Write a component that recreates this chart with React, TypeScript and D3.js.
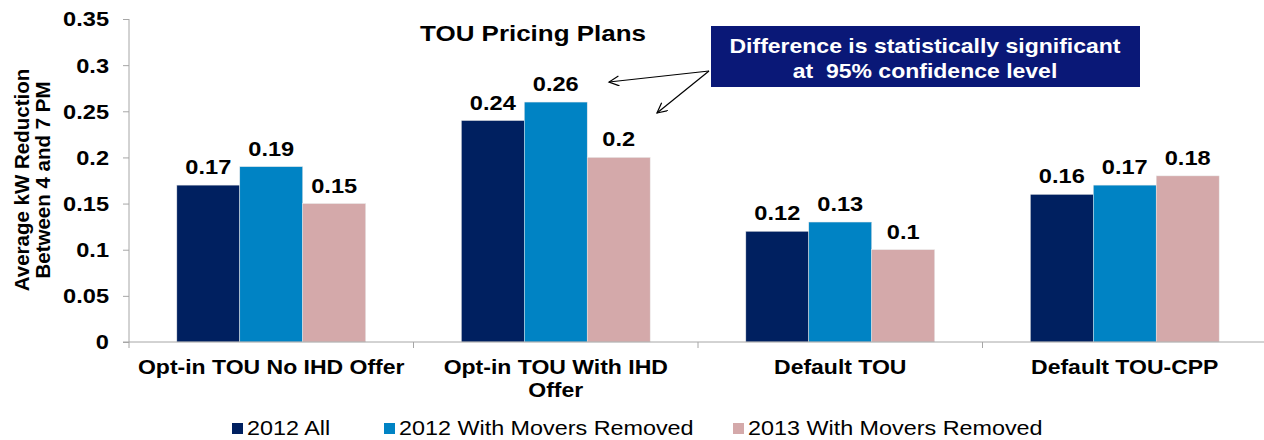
import React, { useEffect, useRef } from "react";
import * as d3 from "d3";

const categories = [
  ["Opt-in TOU No IHD Offer"],
  ["Opt-in TOU With IHD", "Offer"],
  ["Default TOU"],
  ["Default TOU-CPP"],
];
const seriesNames = ["2012 All", "2012 With Movers Removed", "2013 With Movers Removed"];
const all2012 = [0.17, 0.24, 0.12, 0.16];
const movers2012 = [0.19, 0.26, 0.13, 0.17];
const movers2013 = [0.15, 0.2, 0.1, 0.18];
const yTicks = [0, 0.05, 0.1, 0.15, 0.2, 0.25, 0.3, 0.35];

const colors = ["#002060", "#0083C4", "#D4A9AA"];
const width = 1264;
const height = 440;
const plot = { left: 129, right: 1267, top: 19, bottom: 342 };
const legendX = [232, 384, 733];
const stretch = 1.18;
const font = "Liberation Sans, Arial, sans-serif";
const axisColor = "#a6a6a6";

export default function App() {
  const yAxisRef = useRef<SVGGElement>(null);

  const series = [all2012, movers2012, movers2013];
  const keys = categories.map((c) => c.join(" "));

  const x = d3.scaleBand().domain(keys).range([plot.left, plot.right]).padding(0);
  const inner = d3
    .scaleBand()
    .domain(seriesNames)
    .range([0, x.bandwidth()])
    .paddingInner(0)
    .paddingOuter(0.76);
  const y = d3.scaleLinear().domain([0, 0.35]).range([plot.bottom, plot.top]);

  useEffect(() => {
    document.body.style.margin = "0";
    const axis = d3
      .axisLeft(y)
      .tickValues(yTicks)
      .tickSize(6)
      .tickSizeOuter(0)
      .tickFormat((d) => String(d));
    const g = d3.select(yAxisRef.current);
    g.call(axis);
    g.select(".domain").remove();
    g.selectAll(".tick line").attr("stroke", axisColor);
    g.selectAll(".tick text")
      .attr("x", null)
      .attr("dy", null)
      .attr("transform", `translate(-20,0) scale(${stretch},1)`)
      .attr("dominant-baseline", "central")
      .attr("text-anchor", "end")
      .attr("font-family", font)
      .attr("font-weight", "bold")
      .attr("font-size", 20)
      .attr("fill", "#000");
  }, []);

  return (
    <svg width={width} height={height} style={{ display: "block" }} fontFamily={font}>
      <defs>
        <marker
          id="arrow"
          markerUnits="userSpaceOnUse"
          markerWidth={14}
          markerHeight={12}
          refX={11}
          refY={5}
          orient="auto"
        >
          <path d="M1,0 L11,5 L1,10" fill="none" stroke="#000" strokeWidth={1.2} />
        </marker>
      </defs>

      {/* bars */}
      {keys.map((k, ci) =>
        seriesNames.map((s, si) => {
          const v = series[si][ci];
          const bx = (x(k) ?? 0) + (inner(s) ?? 0);
          return (
            <g key={k + s}>
              <rect
                x={bx}
                y={y(v)}
                width={inner.bandwidth()}
                height={y(0) - y(v)}
                fill={colors[si]}
                stroke="#e8e8e8"
                strokeWidth={0.5}
              />
              <text
                transform={`translate(${bx + inner.bandwidth() / 2},${y(v) - 11}) scale(${stretch},1)`}
                textAnchor="middle"
                fontWeight="bold"
                fontSize={20}
              >
                {String(v)}
              </text>
            </g>
          );
        })
      )}

      {/* axes */}
      <g ref={yAxisRef} transform={`translate(${plot.left},0)`} />
      <line x1={plot.left} x2={plot.left} y1={y(0.35)} y2={y(0) + 6} stroke={axisColor} />
      <line x1={plot.left - 6} x2={width} y1={y(0)} y2={y(0)} stroke={axisColor} />
      {keys.slice(1).map((k) => (
        <line key={k} x1={x(k)} x2={x(k)} y1={y(0)} y2={y(0) + 6} stroke={axisColor} />
      ))}

      {/* category labels */}
      {categories.map((lines, ci) =>
        lines.map((ln, li) => (
          <text
            key={ci + "-" + li}
            transform={`translate(${(x(keys[ci]) ?? 0) + x.bandwidth() / 2},${374 + li * 23}) scale(${stretch},1)`}
            textAnchor="middle"
            fontWeight="bold"
            fontSize={19.5}
          >
            {ln}
          </text>
        ))
      )}

      {/* y title */}
      <text transform={`translate(29,180) rotate(-90)`} textAnchor="middle" fontWeight="bold" fontSize={20.5}>
        Average kW Reduction
      </text>
      <text transform={`translate(50,180) rotate(-90)`} textAnchor="middle" fontWeight="bold" fontSize={20.5}>
        Between 4 and 7 PM
      </text>

      {/* title */}
      <text transform={`translate(533,41) scale(${stretch},1)`} textAnchor="middle" fontWeight="bold" fontSize={22}>
        TOU Pricing Plans
      </text>

      {/* annotation */}
      <rect x={711} y={26} width={429} height={61} fill="#0A1877" />
      <text transform={`translate(925,53) scale(${stretch},1)`} textAnchor="middle" fontWeight="bold" fontSize={19.5} fill="#fff">
        Difference is statistically significant
      </text>
      <text transform={`translate(925,78) scale(${stretch},1)`} textAnchor="middle" fontWeight="bold" fontSize={19.5} fill="#fff" style={{ whiteSpace: "pre" }}>
        {"at  95% confidence level"}
      </text>
      <line x1={709} y1={71} x2={609} y2={82} stroke="#000" strokeWidth={1.2} markerEnd="url(#arrow)" />
      <line x1={709} y1={71} x2={657} y2={113} stroke="#000" strokeWidth={1.2} markerEnd="url(#arrow)" />

      {/* legend */}
      {seriesNames.map((s, si) => (
        <g key={s} transform={`translate(${legendX[si]},0)`}>
          <rect x={0} y={423} width={11} height={11} fill={colors[si]} />
          <text transform={`translate(15,435) scale(${stretch},1)`} fontSize={19.8}>
            {s}
          </text>
        </g>
      ))}
    </svg>
  );
}
